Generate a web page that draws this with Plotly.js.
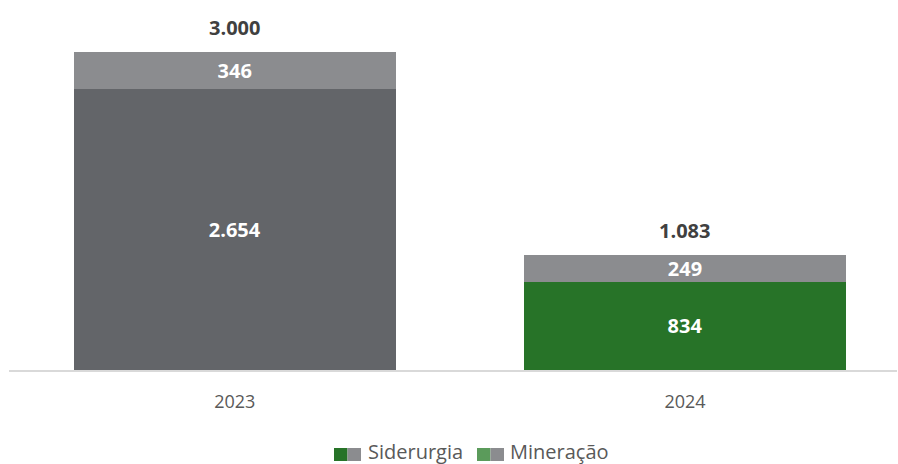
<!DOCTYPE html>
<html>
<head>
<meta charset="utf-8">
<script src="https://cdn.plot.ly/plotly-3.0.1.min.js"></script>
<style>html,body{margin:0;padding:0;background:#fff;}#chart{width:898px;height:464px;}</style>
</head>
<body>
<div id="chart"></div>
<script>
var years = ['2023', '2024'];
var siderurgia = [2654, 834];
var mineracao = [346, 249];
var seriesNames = ['Siderurgia', 'Mineração'];

var totals = years.map(function(_, i){ return siderurgia[i] + mineracao[i]; });
function fmt(n){ return String(n).replace(/\B(?=(\d{3})+(?!\d))/g, '.'); }

var FONT = 'Open Sans, sans-serif';
var darkGray = '#636569', lightGray = '#8b8c8f', green = '#277328', lightGreen = '#5b9b5b';

var traces = [
  {type:'bar', x: years, y: siderurgia, name: seriesNames[0],
   marker:{color:[darkGray, green]}, width:0.715,
   texttemplate:'%{y:,}', textposition:'inside', insidetextanchor:'middle', constraintext:'none',
   textfont:{family:FONT, size:20, color:'#ffffff', weight:'bold'}, hoverinfo:'skip', showlegend:false},
  {type:'bar', x: years, y: mineracao, name: seriesNames[1],
   marker:{color:[lightGray, lightGray]}, width:0.715,
   texttemplate:'%{y:,}', textposition:'inside', insidetextanchor:'middle', constraintext:'none',
   textfont:{family:FONT, size:20, color:'#ffffff', weight:'bold'}, hoverinfo:'skip', showlegend:false}
];

var annotations = [];
for (var i = 0; i < years.length; i++) {
  annotations.push({x: i, y: totals[i], xref:'x', yref:'y', text: '<b>' + fmt(totals[i]) + '</b>',
    showarrow:false, xanchor:'center', yanchor:'bottom', yshift:9, font:{family:FONT, size:20, color:'#404040'}});
}

// legend (two swatches per entry)
function py(p){ return (370 - p) / 360; }
function px(p){ return (p - 9) / 888; }
var shapes = [];
var legendItems = [
  {x0:334, c1:green, c2:lightGray, tx:366, label:seriesNames[0]},
  {x0:477, c1:lightGreen, c2:lightGray, tx:508, label:seriesNames[1]}
];
legendItems.forEach(function(it){
  shapes.push({type:'rect', xref:'paper', yref:'paper', x0:px(it.x0), x1:px(it.x0+13.5), y0:py(461), y1:py(448), fillcolor:it.c1, line:{width:0}});
  shapes.push({type:'rect', xref:'paper', yref:'paper', x0:px(it.x0+13.5), x1:px(it.x0+27), y0:py(461), y1:py(448), fillcolor:it.c2, line:{width:0}});
  annotations.push({xref:'paper', yref:'paper', x:px(it.tx), y:py(451), xanchor:'left', yanchor:'middle',
    text:it.label, showarrow:false, font:{family:FONT, size:20, color:'#595959'}});
});

var layout = {
  width:898, height:464,
  margin:{l:9, r:1, t:10, b:94},
  paper_bgcolor:'#ffffff', plot_bgcolor:'#ffffff',
  barmode:'stack',
  separators:',.',
  showlegend:false,
  xaxis:{type:'category', range:[-0.5014, 1.4709], showline:true, linecolor:'#d9d9d9', linewidth:2,
    ticks:'', showgrid:false, zeroline:false, ticklabelstandoff:14,
    tickfont:{family:FONT, size:18, color:'#595959'}},
  yaxis:{range:[0, 360/0.106], visible:false, showgrid:false, zeroline:false},
  annotations:annotations,
  shapes:shapes,
  font:{family:FONT}
};

Plotly.newPlot('chart', traces, layout, {displayModeBar:false, staticPlot:true});
</script>
</body>
</html>
